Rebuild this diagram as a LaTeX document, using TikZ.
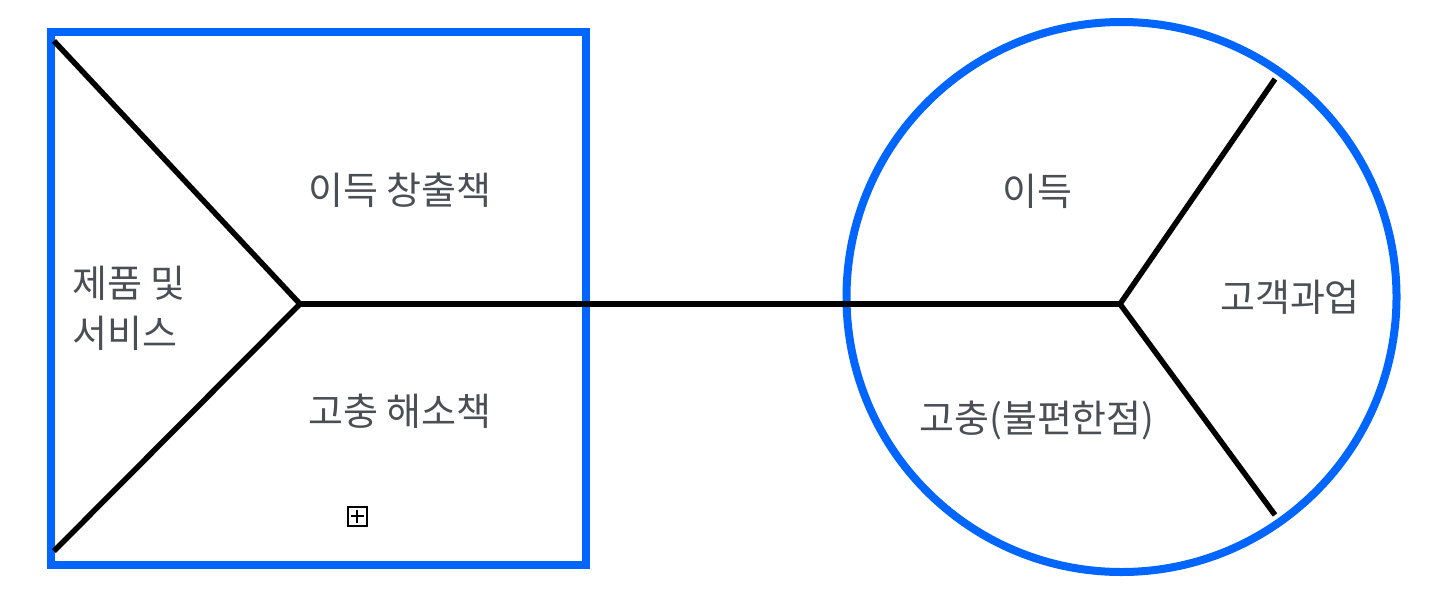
\documentclass[tikz,border=0pt]{standalone}
\usepackage{fontspec}
\newfontfamily\kr{Noto Sans CJK KR}
\definecolor{blu}{HTML}{0066FF}
\definecolor{txt}{HTML}{4A4E55}
\begin{document}
\begin{tikzpicture}[x=1pt,y=-1pt,
  frame/.style={draw=blu,line width=8pt,inner sep=0pt,outer sep=0pt},
  bar/.style={draw=black,line width=5.5pt,line cap=butt,line join=miter},
  lbl/.style={text=txt,font=\kr\fontsize{38}{50}\selectfont,inner sep=0pt}]
\useasboundingbox (0,0) rectangle (1434,600);
\node[frame,rectangle,minimum width=535pt,minimum height=533pt] (sq) at (318.25,298.5) {};
\node[frame,circle,minimum size=550pt] (ci) at (1121.5,297) {};
\coordinate (tl) at (54,41);
\coordinate (bl) at (54,551);
\coordinate (j1) at (300,304);
\coordinate (j2) at (1120,304);
\coordinate (tr) at (1275,79);
\coordinate (br) at (1275,515);
\draw[bar] (tl) -- (j1) -- (bl);
\draw[bar] (j1) -- (j2);
\draw[bar] (tr) -- (j2) -- (br);
\node[lbl] (gain) at (400,190) {이득 창출책};
\node[lbl,align=left,anchor=west] (prod) at (72,308) {제품 및\\서비스};
\node[lbl] (pain) at (400,411) {고충 해소책};
\node[lbl] (g2) at (1037,191) {이득};
\node[lbl] (job) at (1290,297) {고객과업};
\node[lbl] (p2) at (1037,420) {고충(불편한점)};
\node[draw=black,line width=2pt,minimum size=19pt,inner sep=0pt] (plus) at (357,516) {};
\draw[black,line width=2pt] ([yshift=-4pt]plus.north) -- ([yshift=4pt]plus.south);
\draw[black,line width=2pt] ([xshift=4pt]plus.west) -- ([xshift=-4pt]plus.east);
\end{tikzpicture}
\end{document}
